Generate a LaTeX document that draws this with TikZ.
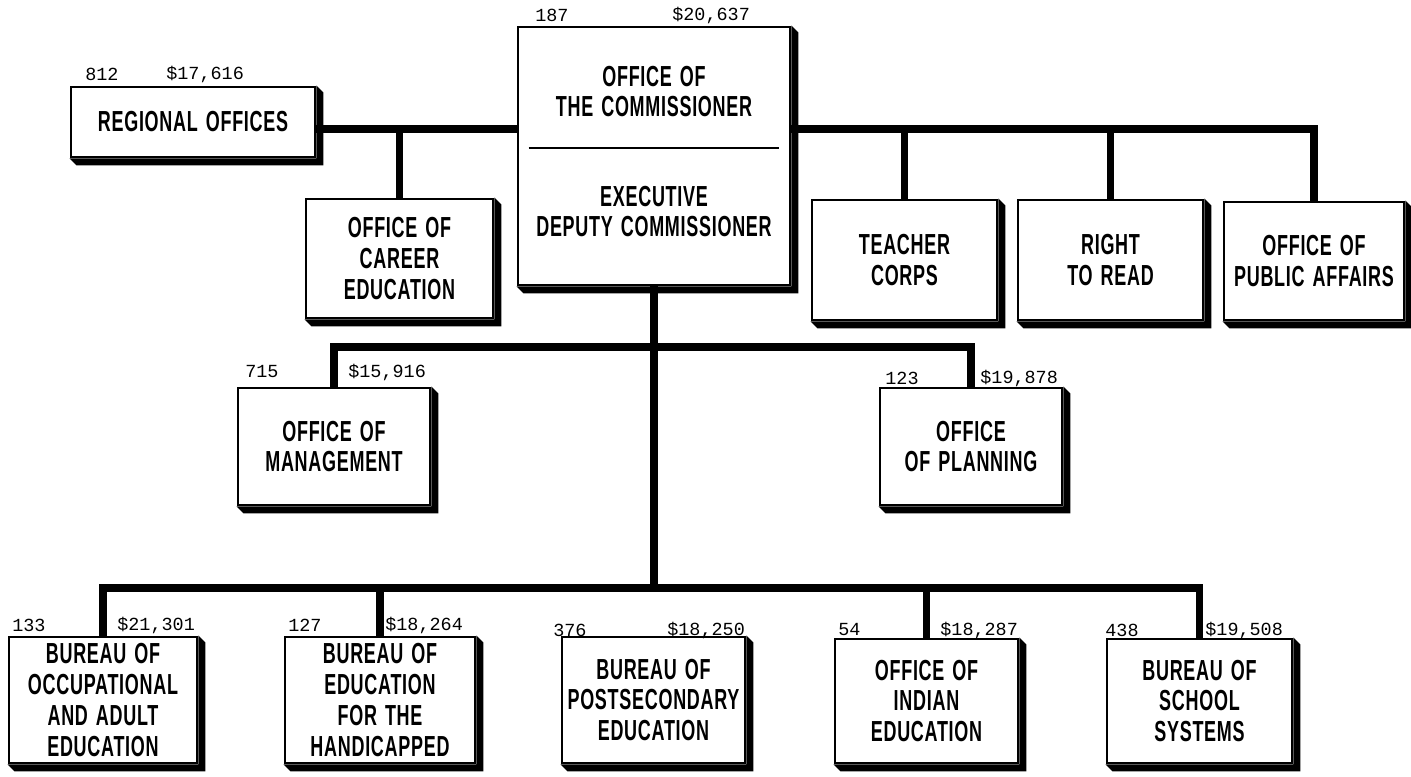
\documentclass[tikz,border=0pt]{standalone}
\usepackage{fontspec}
\newfontfamily\orgfont[FakeStretch=0.62,LetterSpace=2.5,WordSpace=1.4]{Liberation Sans}
\newfontfamily\numfont{Liberation Mono}
\usetikzlibrary{calc}
\tikzset{
  orgbox/.style={draw,rectangle,line width=1.6pt,fill=white,align=center,inner sep=1pt,
    font=\orgfont\bfseries\fontsize{16.5}{17.6}\selectfont},
  orgtxt/.style={align=center,inner sep=0pt,font=\orgfont\bfseries\fontsize{16.5}{17.6}\selectfont},
  numlbl/.style={anchor=west,inner sep=0pt,font=\numfont\fontsize{10.5}{12}\selectfont},
  bar/.style={line width=4.5pt},
  divline/.style={line width=1.6pt}
}

\begin{document}
\begin{tikzpicture}
  \useasboundingbox (0,0) rectangle (28.22,-15.52);
  % Top row
  \node[orgbox, minimum width=4.88cm, minimum height=1.40cm] (reg) at (3.86,-2.44) {REGIONAL OFFICES};
  \node[orgbox, minimum width=5.44cm, minimum height=5.16cm] (comm) at (13.08,-3.12) {};
  \node[orgtxt] (commtop) at (13.08,-1.83) {OFFICE OF\\THE COMMISSIONER};
  \node[orgtxt] (commdep) at (13.08,-4.23) {EXECUTIVE\\DEPUTY COMMISSIONER};
  \node[orgbox, minimum width=3.74cm, minimum height=2.38cm] (career) at (7.99,-5.17) {OFFICE OF\\CAREER\\EDUCATION};
  \node[orgbox, minimum width=3.70cm, minimum height=2.40cm] (teacher) at (18.09,-5.20) {TEACHER\\CORPS};
  \node[orgbox, minimum width=3.70cm, minimum height=2.40cm] (read) at (22.21,-5.20) {RIGHT\\TO READ};
  \node[orgbox, minimum width=3.60cm, minimum height=2.36cm] (public) at (26.28,-5.22) {OFFICE OF\\PUBLIC AFFAIRS};

  % Middle row
  \node[orgbox, minimum width=3.84cm, minimum height=2.34cm] (mgmt) at (6.68,-8.93) {OFFICE OF\\MANAGEMENT};
  \node[orgbox, minimum width=3.64cm, minimum height=2.34cm] (plan) at (19.42,-8.93) {OFFICE\\OF PLANNING};

  % Bottom row
  \node[orgbox, minimum width=3.76cm, minimum height=2.52cm, text depth=-0.1cm] (b1) at (2.06,-14.00) {BUREAU OF\\OCCUPATIONAL\\AND ADULT\\EDUCATION};
  \node[orgbox, minimum width=3.80cm, minimum height=2.52cm, text depth=-0.1cm] (b2) at (7.60,-14.00) {BUREAU OF\\EDUCATION\\FOR THE\\HANDICAPPED};
  \node[orgbox, minimum width=3.66cm, minimum height=2.52cm] (b3) at (13.07,-14.00) {BUREAU OF\\POSTSECONDARY\\EDUCATION};
  \node[orgbox, minimum width=3.66cm, minimum height=2.48cm] (b4) at (18.53,-14.02) {OFFICE OF\\INDIAN\\EDUCATION};
  \node[orgbox, minimum width=3.70cm, minimum height=2.48cm] (b5) at (23.99,-14.02) {BUREAU OF\\SCHOOL\\SYSTEMS};

  % Shadows
  \foreach \n in {reg,comm,career,teacher,read,public,mgmt,plan,b1,b2,b3,b4,b5}
    \fill (\n.north east) -- ++(0.14,-0.14) |- ($(\n.south west)+(0.14,-0.14)$) -- (\n.south west) -- (\n.south east) -- cycle;

  % Divider in the commissioner box
  \coordinate (div) at (0,-2.96);
  \draw[divline] ($(comm.west |- div)+(0.24,0)$) -- ($(comm.east |- div)+(-0.24,0)$);

  % Connectors
  \coordinate (topbar) at (0,-2.58);
  \coordinate (midbar) at (13.06,-6.94);
  \coordinate (botbar) at (13.06,-11.76);
  \draw[bar] (reg.east |- topbar) -- (comm.west |- topbar);
  \draw[bar] (comm.east |- topbar) -| (public.north);
  \foreach \t in {career,teacher,read}
    \draw[bar] (\t.north) -- (\t.north |- topbar);
  \draw[bar] (comm.south) -- (comm.south |- botbar);
  \draw[bar] (mgmt.north) |- (midbar) -| (plan.north);
  \draw[bar] (b1.north) |- (botbar) -| (b5.north);
  \foreach \t in {b2,b4}
    \draw[bar] (\t.north) -- (\t.north |- botbar);

  % Staff and salary figures
  \node[numlbl] (regcnt) at (1.70,-1.48) {812};
  \node[numlbl] (regsal) at (3.32,-1.48) {\$17,616};
  \node[numlbl] (commcnt) at (10.70,-0.30) {187};
  \node[numlbl] (commsal) at (13.44,-0.30) {\$20,637};
  \node[numlbl] (mgmtcnt) at (4.90,-7.44) {715};
  \node[numlbl] (mgmtsal) at (6.96,-7.44) {\$15,916};
  \node[numlbl] (plancnt) at (17.70,-7.56) {123};
  \node[numlbl] (plansal) at (19.60,-7.56) {\$19,878};
  \node[numlbl] (b1cnt) at (0.24,-12.50) {133};
  \node[numlbl] (b1sal) at (2.34,-12.50) {\$21,301};
  \node[numlbl] (b2cnt) at (5.76,-12.50) {127};
  \node[numlbl] (b2sal) at (7.70,-12.50) {\$18,264};
  \node[numlbl] (b3cnt) at (11.06,-12.60) {376};
  \node[numlbl] (b3sal) at (13.34,-12.60) {\$18,250};
  \node[numlbl] (b4cnt) at (16.76,-12.60) {54};
  \node[numlbl] (b4sal) at (18.80,-12.60) {\$18,287};
  \node[numlbl] (b5cnt) at (22.10,-12.60) {438};
  \node[numlbl] (b5sal) at (24.10,-12.60) {\$19,508};
\end{tikzpicture}
\end{document}
